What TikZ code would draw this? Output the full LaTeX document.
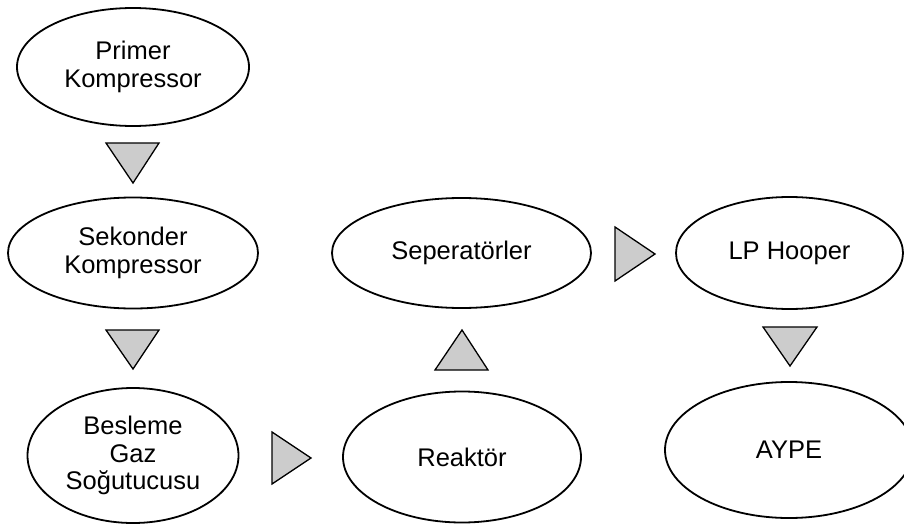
\documentclass[tikz,border=0pt]{standalone}
\usepackage{fontspec}
\setmainfont{Liberation Sans}
\usetikzlibrary{shapes.geometric}
\definecolor{trigray}{RGB}{204,204,204}
\tikzset{
  proc/.style={draw=black, line width=1.8pt, ellipse, inner sep=0pt, align=center,
    font=\fontsize{25.5pt}{27.5pt}\selectfont},
  flowtri/.style={draw=black, line width=1.3pt, fill=trigray, line join=miter}
}
\begin{document}
\begin{tikzpicture}[x=1pt,y=-1pt]
\useasboundingbox (0,0) rectangle (904,524);
\node[proc, minimum width=232pt, minimum height=118pt] (prim) at (133,67) {Primer\\Kompressor};
\node[proc, minimum width=250pt, minimum height=111pt] (sek) at (133,253) {Sekonder\\Kompressor};
\node[proc, minimum width=211pt, minimum height=135pt] (bes) at (133,455.5) {Besleme\\Gaz\\Soğutucusu};
\node[proc, minimum width=238pt, minimum height=131pt] (rea) at (462,457) {Reaktör};
\node[proc, minimum width=259pt, minimum height=110pt] (sep) at (461.5,253) {Seperatörler};
\node[proc, minimum width=227pt, minimum height=112pt] (lp) at (789.5,253) {LP Hooper};
\node[proc, minimum width=248pt, minimum height=136pt] (aype) at (789,450) {AYPE};
% flow triangles
\draw[flowtri] (106,143) -- (159,143) -- (133,183) -- cycle;
\draw[flowtri] (106,330) -- (159,330) -- (133,369) -- cycle;
\draw[flowtri] (272,432) -- (272,484) -- (311,458) -- cycle;
\draw[flowtri] (435,370) -- (488,370) -- (462,330) -- cycle;
\draw[flowtri] (615,227) -- (615,281) -- (655,254) -- cycle;
\draw[flowtri] (763,327) -- (817,327) -- (790,366) -- cycle;
\end{tikzpicture}
\end{document}
